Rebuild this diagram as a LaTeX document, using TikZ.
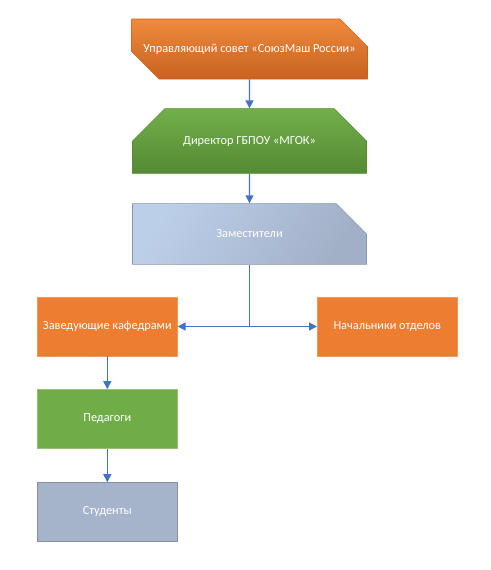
\documentclass[tikz,border=0pt]{standalone}
\usepackage{fontspec}
\setmainfont{Carlito}
\usetikzlibrary{shapes.misc,arrows.meta,positioning}
\definecolor{orangebox}{HTML}{ED7D31}
\definecolor{orangetop}{HTML}{EF8A3E}
\definecolor{orangebot}{HTML}{C8621F}
\definecolor{greenbox}{HTML}{70AD47}
\definecolor{greentop}{HTML}{72AF49}
\definecolor{greenbot}{HTML}{548A34}
\definecolor{greybox}{HTML}{A5B4CB}
\definecolor{greytop}{HTML}{BCCFE9}
\definecolor{greybot}{HTML}{A2B0C7}
\definecolor{linkblue}{HTML}{4472C4}
\tikzset{
  unit/.style={chamfered rectangle,minimum width=234pt,minimum height=60pt,
    text=white,font=\fontsize{12.3}{14}\selectfont,line width=0.6pt},
  dept/.style={rectangle,minimum width=140pt,minimum height=59pt,
    text=white,font=\fontsize{12.3}{14}\selectfont,line width=0.6pt},
  link/.style={-{Triangle[length=8pt,width=8pt]},linkblue,line width=1.2pt}
}
\begin{document}
\begin{tikzpicture}[x=1pt,y=1pt]
  \useasboundingbox (0,0) rectangle (490,-570);
  \node[unit,chamfered rectangle corners={north east,south west},
    chamfered rectangle xsep=21pt,chamfered rectangle ysep=19pt,
    draw=orangebot,top color=orangetop,bottom color=orangebot] (a) at (249.5,-49)
    {Управляющий совет «СоюзМаш России»};
  \node[unit,chamfered rectangle corners={north west,north east},
    chamfered rectangle xsep=23pt,chamfered rectangle ysep=24pt,
    draw=greenbot,top color=greentop,bottom color=greenbot,below of=a,node distance=92pt] (b)
    {Директор ГБПОУ «МГОК»};
  \node[unit,chamfered rectangle corners=north east,
    chamfered rectangle xsep=24pt,chamfered rectangle ysep=23pt,
    draw=greybot!85!black,top color=greytop,bottom color=greybot,shading angle=60,below of=b,node distance=93pt] (c)
    {Заместители};
  \node[dept,draw=orangebox!80!white,fill=orangebox,below of=c,node distance=92.5pt,xshift=-142.2pt] (d)
    {Заведующие кафедрами};
  \node[dept,draw=orangebox!80!white,fill=orangebox,below of=c,node distance=92.5pt,xshift=137.8pt] (e)
    {Начальники отделов};
  \node[dept,draw=greenbox!75!white,fill=greenbox,below of=d,node distance=92.5pt] (f)
    {Педагоги};
  \node[dept,draw=greybox!80!black,fill=greybox,below of=f,node distance=93pt] (g)
    {Студенты};
  \coordinate (s) at (c.south |- d.east);
  \draw[link] (a) -- (b);
  \draw[link] (b) -- (c);
  \draw[linkblue,line width=1.2pt] (c.south) -- (s);
  \draw[link] (s) -- (d.east);
  \draw[link] (s) -- (e.west);
  \draw[link] (d) -- (f);
  \draw[link] (f) -- (g);
\end{tikzpicture}
\end{document}
